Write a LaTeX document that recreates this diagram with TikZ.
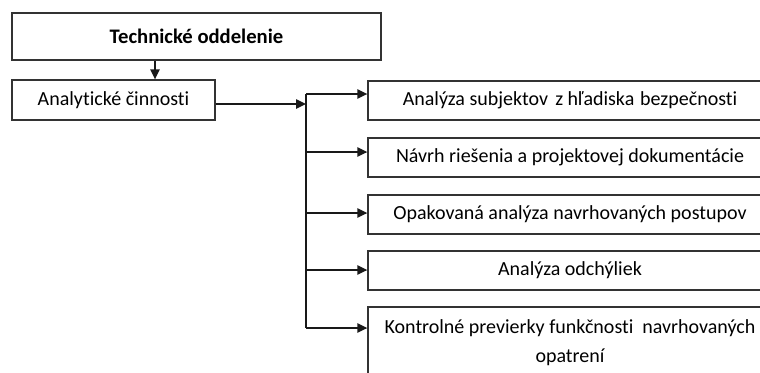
\documentclass[tikz,border=0pt]{standalone}
\usepackage{fontspec}
\setmainfont[Ligatures=NoCommon]{Carlito}
\usetikzlibrary{arrows.meta}
\begin{document}
\begin{tikzpicture}[x=0.75pt,y=-0.75pt,
  box/.style={draw=black!80, line width=1pt, inner sep=0pt, align=center,
    font=\fontsize{15}{21.75}\selectfont},
  link/.style={draw=black!90, line width=1.1pt},
  conn/.style={link, -{Triangle[length=7.5pt,width=7pt]}}]
\useasboundingbox (0,0) rectangle (760,372);
\clip (0,0) rectangle (760,372);

% left column
\node[box, minimum width={369*0.75pt}, minimum height={47*0.75pt},
      font=\fontsize{15.5}{18}\selectfont\bfseries] (top) at (196.5,36.5) {Technické oddelenie};
\node[box, minimum width={203*0.75pt}, minimum height={40*0.75pt}] (act) at (113.5,100) {Analytické činnosti};

% task boxes
\node[box, minimum width={404*0.75pt}, minimum height={39*0.75pt}] (b1) at (570,100.5) {Analýza subjektov\hspace{2pt} z hľadiska\hspace{1pt} bezpečnosti};
\node[box, minimum width={404*0.75pt}, minimum height={39*0.75pt}] (b2) at (570,157.5) {Návrh riešenia a projektovej dokumentácie};
\node[box, minimum width={404*0.75pt}, minimum height={39*0.75pt}] (b3) at (570,214.5) {Opakovaná analýza navrhovaných postupov};
\node[box, minimum width={404*0.75pt}, minimum height={39*0.75pt}] (b4) at (570,270.5) {Analýza odchýliek};
\node[box, minimum width={404*0.75pt}, minimum height={72*0.75pt}] (b5) at (570,343) {Kontrolné previerky funkčnosti \ navrhovaných\\opatrení};

% connectors
\coordinate (d) at (155,0);
\draw[conn] (top.south -| d) -- (act.north -| d);

\coordinate (t0) at (306,104);
\draw[conn] (t0 -| act.east) -- (t0);

\coordinate (j1) at (306,94);
\coordinate (j2) at (306,152);
\coordinate (j3) at (306,213);
\coordinate (j4) at (306,270);
\coordinate (j5) at (306,328);
\draw[link] (j1) -- (j5);
\foreach \j/\b in {j1/b1,j2/b2,j3/b3,j4/b4,j5/b5}
  \draw[conn] (\j) -- (\j -| \b.west);
\end{tikzpicture}
\end{document}
